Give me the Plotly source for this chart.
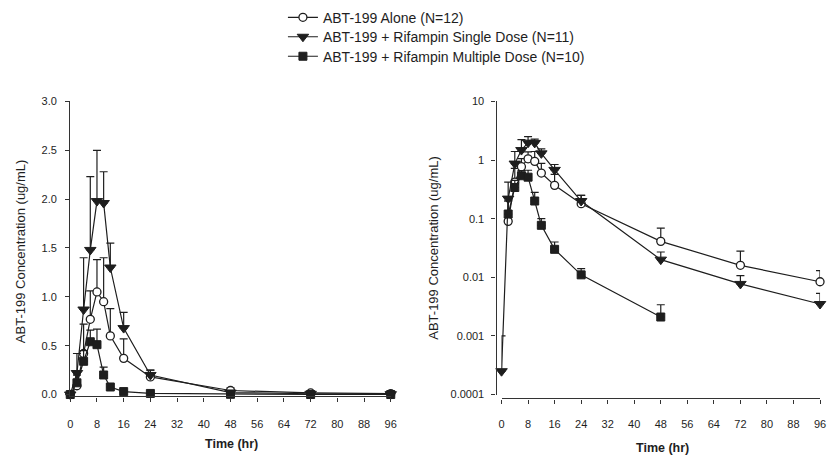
import plotly.graph_objects as go

W, H = 829, 457

# ---------------- data ----------------
time = [0, 2, 4, 6, 8, 10, 12, 16, 24, 48, 72, 96]

alone_mean = [0, 0.09, 0.42, 0.77, 1.05, 0.95, 0.60, 0.37, 0.18, 0.041, 0.016, 0.0084]
alone_sd = [0, 0.11, 0.30, 0.29, 0.33, 0.45, 0.28, 0.20, 0.07, 0.028, 0.012, 0.0046]

single_mean = [0.00025, 0.22, 0.87, 1.48, 1.98, 1.96, 1.30, 0.68, 0.20, 0.020, 0.0077, 0.0035]
single_sd = [0.00075, 0.20, 0.53, 0.75, 0.52, 0.32, 0.25, 0.16, 0.05, 0.007, 0.003, 0.0018]

multi_mean = [0, 0.12, 0.34, 0.54, 0.51, 0.20, 0.077, 0.03, 0.011, 0.0021, 0, 0]
multi_sd = [0, 0.08, 0.11, 0.12, 0.16, 0.08, 0.023, 0.01, 0.003, 0.0013, 0, 0]

series_names = [
    "ABT-199 Alone (N=12)",
    "ABT-199 + Rifampin Single Dose (N=11)",
    "ABT-199 + Rifampin Multiple Dose (N=10)",
]

x_ticks = list(range(0, 97, 8))
lin_ticks = [0, 0.5, 1.0, 1.5, 2.0, 2.5, 3.0]
log_ticks = [0.0001, 0.001, 0.01, 0.1, 1, 10]
log_labels = ["0.0001", "0.001", "0.01", "0.1", "1", "10"]

y_title = "ABT-199 Concentration (ug/mL)"
x_title = "Time (hr)"

# ---------------- style ----------------
FONT = "Liberation Sans, Arial, sans-serif"
INK = "#1e1e1e"
styles = [
    dict(symbol="circle", size=8, color="white", line=dict(color=INK, width=1.3)),
    dict(symbol="triangle-down", size=10, color=INK, line=dict(color=INK, width=1)),
    dict(symbol="square", size=8, color=INK, line=dict(color=INK, width=1)),
]
means = [alone_mean, single_mean, multi_mean]
sds = [alone_sd, single_sd, multi_sd]
legend_ids = ["legend", "legend2", "legend3"]

fig = go.Figure()

for i in range(3):
    for k, (xa, ya) in enumerate([("x", "y"), ("x2", "y2")]):
        mv = means[i]
        sv = sds[i]
        if k == 1:
            # log panel: non-positive values are not plotted
            mv = [m if m > 0 else None for m in mv]
        fig.add_trace(go.Scatter(
            x=time, y=mv, xaxis=xa, yaxis=ya,
            mode="lines+markers",
            name=series_names[i],
            showlegend=(k == 0),
            legend=legend_ids[i],
            line=dict(color=INK, width=1.2),
            marker=styles[i],
            cliponaxis=False,
            error_y=dict(type="data", symmetric=False, array=sv,
                         arrayminus=[0] * len(sv), color=INK,
                         thickness=1.2, width=4),
        ))

def px_x(p):
    return p / W

def px_y(p):
    return 1 - p / H

axis_common = dict(
    showgrid=False, zeroline=False, showline=True, linecolor="#333333",
    linewidth=1.3, ticks="outside", ticklen=4, tickcolor="#333333",
    tickwidth=1.2, tickfont=dict(family=FONT, size=11, color=INK),
)

def leg(ypx):
    return dict(x=px_x(283), y=px_y(ypx), xanchor="left", yanchor="middle",
                font=dict(family=FONT, size=14, color=INK),
                bgcolor="rgba(0,0,0,0)", itemwidth=30)

fig.update_layout(
    width=W, height=H,
    margin=dict(l=0, r=0, t=0, b=0),
    paper_bgcolor="white", plot_bgcolor="white",
    font=dict(family=FONT, color=INK),
    xaxis=dict(domain=[px_x(68), px_x(392)], range=[0, 96],
               tickvals=x_ticks, anchor="y", ticklabelstandoff=13,
               **axis_common),
    yaxis=dict(domain=[px_y(401), px_y(98)], range=[-0.02, 3.0],
               tickvals=lin_ticks, tickformat=".1f", anchor="x",
               ticklabelstandoff=6, **axis_common),
    xaxis2=dict(domain=[px_x(504), px_x(826)], range=[0, 96],
                tickvals=x_ticks, anchor="free", position=px_y(403),
                ticklabelstandoff=11, **axis_common),
    yaxis2=dict(domain=[px_y(399), px_y(98)], range=[-4, 1], type="log",
                tickvals=log_ticks, ticktext=log_labels,
                anchor="free", position=px_x(498), ticklabelstandoff=5,
                **axis_common),
    legend=leg(12),
    legend2=leg(32),
    legend3=leg(52),
    showlegend=True,
)

annots = [
    dict(text=y_title, x=px_x(18), y=px_y(252), textangle=-90, size=13),
    dict(text=y_title, x=px_x(435), y=px_y(248), textangle=-90, size=13),
    dict(text="<b>" + x_title + "</b>", x=px_x(231), y=px_y(450), textangle=0, size=12.5),
    dict(text="<b>" + x_title + "</b>", x=px_x(667), y=px_y(454), textangle=0, size=12.5),
]
for a in annots:
    fig.add_annotation(
        text=a["text"], x=a["x"], y=a["y"], xref="paper", yref="paper",
        xanchor="center", yanchor="middle", textangle=a["textangle"],
        showarrow=False, font=dict(family=FONT, size=a["size"], color=INK),
    )

fig.write_html("out.html")
